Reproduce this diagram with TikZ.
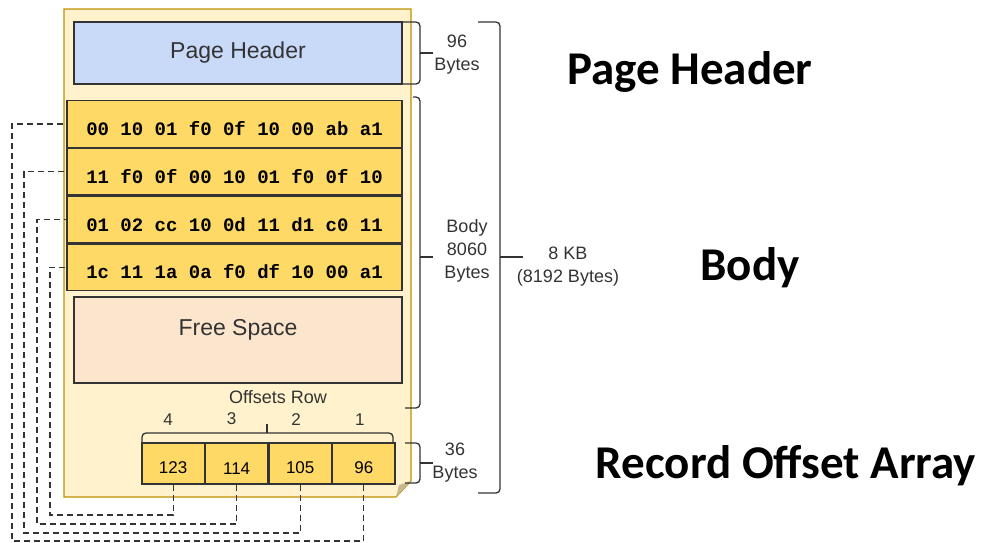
\documentclass[tikz,border=0pt]{standalone}
\usepackage{fontspec}
\setmainfont{Liberation Sans}
\newfontfamily\hexfont{Liberation Mono}
\newfontfamily\bigfont{Carlito}
\usetikzlibrary{positioning}
\usepackage{xcolor}

\definecolor{pagefill}{HTML}{FFF2CC}
\definecolor{pageline}{HTML}{BF9000}
\definecolor{hdrfill}{HTML}{C9DAF8}
\definecolor{rowfill}{HTML}{FFD966}
\definecolor{freefill}{HTML}{FCE5CD}
\definecolor{inkgray}{HTML}{333333}

\tikzset{
    box/.style={draw=inkgray, line width=1.3pt, inner sep=0pt},
    rowbox/.style={box, fill=rowfill, minimum width=335pt, minimum height=46.5pt,
        font=\hexfont\bfseries\fontsize{19}{19}\selectfont, text height=23pt},
    cell/.style={box, fill=rowfill, minimum width=62.25pt, minimum height=41pt,
        font=\fontsize{17}{17}\selectfont, text height=21pt},
    num/.style={inner sep=0pt, font=\fontsize{17}{17}\selectfont, text=inkgray},
    brk/.style={draw=inkgray, line width=1.3pt, rounded corners=4pt},
    link/.style={draw=black!80, line width=1.1pt, dash pattern=on 6pt off 4pt},
    note/.style={font=\fontsize{18}{23}\selectfont, align=center, text=inkgray},
    title/.style={font=\bigfont\bfseries\fontsize{47}{47}\selectfont}
}

\begin{document}
\begin{tikzpicture}[x=1pt, y=-1pt]
    \useasboundingbox (0,0) rectangle (987,542);
    % the page
    \draw[fill=pagefill, draw=pageline, line width=1.2pt] (64,9) -- (411,9) -- (411,481) -- (396,497) -- (64,497) -- cycle;
    \fill[pageline!50!gray!60] (396,497) -- (399,485) -- (411,481) -- cycle;

    \node[box, fill=hdrfill, minimum width=328pt, minimum height=62pt, font=\fontsize{23}{23}\selectfont, text=inkgray] (hdr) at (238,53) {Page Header};
    \node[rowbox] (r1) at (234.5,124) {00 10 01 f0 0f 10 00 ab a1};
    \node[rowbox, below=0pt of r1] (r2) {11 f0 0f 00 10 01 f0 0f 10};
    \node[rowbox, below=0pt of r2] (r3) {01 02 cc 10 0d 11 d1 c0 11};
    \node[rowbox, below=0pt of r3] (r4) {1c 11 1a 0a f0 df 10 00 a1};
    \node[box, fill=freefill, minimum width=328pt, minimum height=86pt] (free) at (238,340) {};
    \node[font=\fontsize{23}{23}\selectfont, text=inkgray] (freetxt) at (238,330) {Free Space};

    % offsets row
    \node[font=\fontsize{18}{18}\selectfont, text=inkgray] (offrow) at (278,397) {Offsets Row};
    \node[cell] (c123) at (173.1,463.5) {123};
    \node[cell, right=0pt of c123] (c114) {114};
    \node[cell, right=0pt of c114] (c105) {105};
    \node[cell, right=0pt of c105] (c96) {96};
    \draw[brk] (142,442) -- (142,433) -- (393,433) -- (393,442);
    \draw[brk] (267,433) -- (267,424);
    \node[num, above=17pt of c123, xshift=-5pt] (n4) {4};
    \node[num, above=17pt of c114, xshift=-5pt] (n3) {3};
    \node[num, above=17pt of c105, xshift=-4pt] (n2) {2};
    \node[num, above=17pt of c96, xshift=-4pt] (n1) {1};

    \draw[link] (c123.south) |- (50,515) |- (r4.west);
    \draw[link] (c114.south) |- (37,524) |- (r3.west);
    \draw[link] (c105.south) |- (24,533) |- (r2.west);
    \draw[link] (c96.south) |- (12,541) |- (r1.west);

    % sizes
    \draw[brk] (403,22) -- (420,22) -- (420,84) -- (403,84);
    \draw[brk] (420,53) -- (433,53);
    \draw[brk] (413,97) -- (420,97) -- (420,408) -- (405,408);
    \draw[brk] (420,257) -- (433,257);
    \draw[brk] (405,443) -- (420,443) -- (420,483) -- (405,483);
    \draw[brk] (420,463) -- (433,463);
    \draw[brk] (478,22) -- (500,22) -- (500,493) -- (478,493);
    \draw[brk] (500,257) -- (523,257);
    \node[note] (hdrsize) at (457,55) {96\\Bytes};
    \node[note] (bodysize) at (467,251) {Body\\8060\\Bytes};
    \node[note] (offsize) at (455,463) {36\\Bytes};
    \node[note] (pagesize) at (568,267) {8 KB\\(8192 Bytes)};

    \node[title] (ttlhdr) at (690,72) {Page Header};
    \node[title] (ttlbody) at (750,268) {Body};
    \node[title] (ttloff) at (786,466) {Record Offset Array};
\end{tikzpicture}
\end{document}
